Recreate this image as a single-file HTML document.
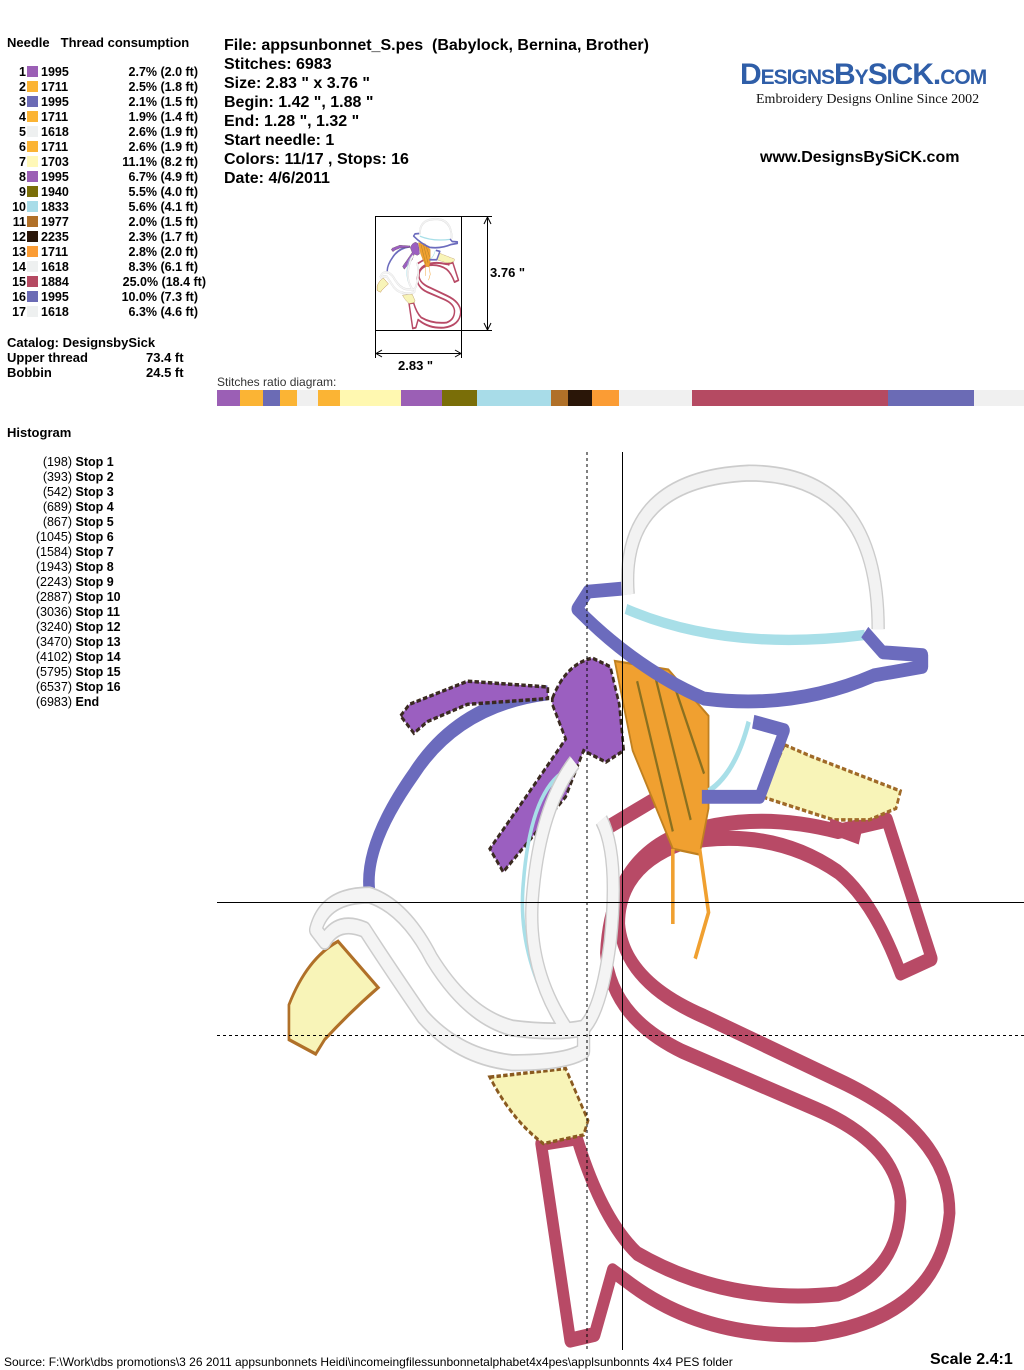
<!DOCTYPE html>
<html><head><meta charset="utf-8"><style>
body{margin:0;width:1024px;height:1370px;position:relative;background:#fff;font-family:"Liberation Sans",Arial,sans-serif;overflow:hidden}
.a{position:absolute;white-space:nowrap}
.b{font-weight:bold}
.t{font-size:13px;font-weight:bold;line-height:15px}
.sw{display:inline-block;width:11px;height:11px;vertical-align:-1px;margin:0 3px 0 1px}
.h{font-size:16px;font-weight:bold;line-height:19px;white-space:pre}
.n{display:inline-block;width:19px;text-align:right}
.p{position:absolute;left:99px;width:92px;text-align:right}
.r{display:inline-block;width:52px;text-align:right}
</style></head><body>
<div class="a t" style="left:7px;top:35px">Needle<span style="margin-left:11px">Thread consumption</span></div>
<div class="a t" style="left:7px;top:65px;font-size:12.5px">
<div><span class="n">1</span><span class="sw" style="background:#9b5fb5"></span>1995<span class="p">2.7% (2.0 ft)</span></div>
<div><span class="n">2</span><span class="sw" style="background:#fbb434"></span>1711<span class="p">2.5% (1.8 ft)</span></div>
<div><span class="n">3</span><span class="sw" style="background:#6b6bb5"></span>1995<span class="p">2.1% (1.5 ft)</span></div>
<div><span class="n">4</span><span class="sw" style="background:#fbb434"></span>1711<span class="p">1.9% (1.4 ft)</span></div>
<div><span class="n">5</span><span class="sw" style="background:#eef0f0"></span>1618<span class="p">2.6% (1.9 ft)</span></div>
<div><span class="n">6</span><span class="sw" style="background:#fbb434"></span>1711<span class="p">2.6% (1.9 ft)</span></div>
<div><span class="n">7</span><span class="sw" style="background:#fff8b8"></span>1703<span class="p">11.1% (8.2 ft)</span></div>
<div><span class="n">8</span><span class="sw" style="background:#9b5fb5"></span>1995<span class="p">6.7% (4.9 ft)</span></div>
<div><span class="n">9</span><span class="sw" style="background:#7a6e08"></span>1940<span class="p">5.5% (4.0 ft)</span></div>
<div><span class="n">10</span><span class="sw" style="background:#a8dce8"></span>1833<span class="p">5.6% (4.1 ft)</span></div>
<div><span class="n">11</span><span class="sw" style="background:#b07028"></span>1977<span class="p">2.0% (1.5 ft)</span></div>
<div><span class="n">12</span><span class="sw" style="background:#2a1608"></span>2235<span class="p">2.3% (1.7 ft)</span></div>
<div><span class="n">13</span><span class="sw" style="background:#fb9c34"></span>1711<span class="p">2.8% (2.0 ft)</span></div>
<div><span class="n">14</span><span class="sw" style="background:#eef0f0"></span>1618<span class="p">8.3% (6.1 ft)</span></div>
<div><span class="n">15</span><span class="sw" style="background:#b54a62"></span>1884<span class="p" style="left:99px;width:100px">25.0% (18.4 ft)</span></div>
<div><span class="n">16</span><span class="sw" style="background:#6b6bb5"></span>1995<span class="p">10.0% (7.3 ft)</span></div>
<div><span class="n">17</span><span class="sw" style="background:#eef0f0"></span>1618<span class="p">6.3% (4.6 ft)</span></div>
</div>
<div class="a t" style="left:7px;top:335px">Catalog: DesignsbySick</div>
<div class="a t" style="left:7px;top:350px">Upper thread</div><div class="a t" style="left:146px;top:350px">73.4 ft</div>
<div class="a t" style="left:7px;top:365px">Bobbin</div><div class="a t" style="left:146px;top:365px">24.5 ft</div>
<div class="a t" style="left:7px;top:425px">Histogram</div>
<div class="a" style="left:20px;top:455px;font-size:12.5px;line-height:15px">
<div><span class="r">(198)</span> <b>Stop 1</b></div>
<div><span class="r">(393)</span> <b>Stop 2</b></div>
<div><span class="r">(542)</span> <b>Stop 3</b></div>
<div><span class="r">(689)</span> <b>Stop 4</b></div>
<div><span class="r">(867)</span> <b>Stop 5</b></div>
<div><span class="r">(1045)</span> <b>Stop 6</b></div>
<div><span class="r">(1584)</span> <b>Stop 7</b></div>
<div><span class="r">(1943)</span> <b>Stop 8</b></div>
<div><span class="r">(2243)</span> <b>Stop 9</b></div>
<div><span class="r">(2887)</span> <b>Stop 10</b></div>
<div><span class="r">(3036)</span> <b>Stop 11</b></div>
<div><span class="r">(3240)</span> <b>Stop 12</b></div>
<div><span class="r">(3470)</span> <b>Stop 13</b></div>
<div><span class="r">(4102)</span> <b>Stop 14</b></div>
<div><span class="r">(5795)</span> <b>Stop 15</b></div>
<div><span class="r">(6537)</span> <b>Stop 16</b></div>
<div><span class="r">(6983)</span> <b>End</b></div>
</div>
<div class="a h" style="left:224px;top:36px">File: appsunbonnet_S.pes  (Babylock, Bernina, Brother)
Stitches: 6983
Size: 2.83 " x 3.76 "
Begin: 1.42 ", 1.88 "
End: 1.28 ", 1.32 "
Start needle: 1
Colors: 11/17 , Stops: 16
Date: 4/6/2011</div>
<div class="a" style="left:740px;top:58px;font-family:'Liberation Sans',sans-serif;font-weight:bold;font-size:30px;color:#2f5ea8;letter-spacing:-1px;font-variant:small-caps">DesignsBySiCK.com</div>
<div class="a" style="left:756px;top:92px;font-family:'Liberation Serif',serif;font-size:14px;color:#111">Embroidery Designs Online Since 2002</div>
<div class="a h" style="left:760px;top:148px">www.DesignsBySiCK.com</div>
<div class="a" style="left:217px;top:375px;font-size:12px;color:#333">Stitches ratio diagram:</div>
<div class="a b" style="left:490px;top:265px;font-size:13px">3.76 "</div>
<div class="a b" style="left:398px;top:358px;font-size:13px">2.83 "</div>
<div class="a" style="left:4px;top:1355px;font-size:12px">Source: F:\Work\dbs promotions\3 26 2011 appsunbonnets Heidi\incomeingfilessunbonnetalphabet4x4pes\applsunbonnts 4x4 PES folder</div>
<div class="a b" style="left:930px;top:1351px;font-size:16px">Scale 2.4:1</div>
<svg class="a" style="left:0;top:0" width="1024" height="1370">
<defs>
<g id="d">
<path d="M1360,640 L1460,880 L1390,905 Q1330,780 1250,730 Q1100,650 900,680 Q760,720 760,820 Q770,920 950,980 L1250,1090 Q1500,1180 1500,1320 Q1480,1500 1200,1530 Q950,1540 780,1440 L745,1420 L705,1530 L650,1540 L585,1200 L665,1190 Q720,1330 800,1390 Q1000,1480 1250,1460 Q1390,1420 1390,1300 Q1380,1200 1200,1140 L900,1040 Q740,980 730,870 Q740,720 880,670 Q1050,620 1250,660 Z M730,655 L860,595" fill="none" stroke="#b84a66" stroke-width="26" stroke-linejoin="round"/>
<path d="M750,365 L870,380 L960,460 L960,620 L940,700 L880,690 L790,520 Z" fill="#f0a030" stroke="#c08020" stroke-width="4"/>
<path d="M800,400 L880,660 M840,390 L920,640 M880,400 L950,560" stroke="#8a7020" stroke-width="5"/>
<path d="M880,690 L880,820 M940,690 L960,800 L930,880" fill="none" stroke="#f0a030" stroke-width="8"/>
<path d="M1130,510 L1190,530 L1390,590 L1380,620 L1320,640 L1240,640 L1080,600 Z" fill="#f8f4b8" stroke="#a06a28" stroke-width="6" stroke-dasharray="10 5"/>
<path d="M1230,650 L1300,670" stroke="#b84a66" stroke-width="26"/>
<path d="M780,250 Q760,50 1050,40 Q1340,40 1340,310" fill="none" stroke="#ccc" stroke-width="30"/>
<path d="M780,250 Q760,50 1050,40 Q1340,40 1340,310" fill="none" stroke="#f2f2f2" stroke-width="24"/>
<path d="M775,275 Q1000,350 1310,320" fill="none" stroke="#a8dfe8" stroke-width="18"/>
<path d="M765,240 L690,245 L665,275 Q800,380 950,430 Q1150,450 1330,390 L1440,375 L1440,355 L1350,350 L1310,315" fill="none" stroke="#6b6bbd" stroke-width="24" stroke-linejoin="round"/>
<path d="M1050,470 Q1020,560 960,590" fill="none" stroke="#a8dfe8" stroke-width="10"/>
<path d="M1060,470 L1130,485 L1075,600 L945,600" fill="none" stroke="#6b6bbd" stroke-width="24" stroke-linejoin="round"/>
<path d="M600,420 Q400,440 300,560 Q190,680 200,760" fill="none" stroke="#6b6bbd" stroke-width="26"/>
<path d="M610,430 Q640,370 700,360 L740,375 L760,440 L770,520 L730,540 L680,520 L640,600 L500,730 L470,690 L560,590 L640,500 L610,440 Z M270,460 L290,440 L420,400 L600,410 L600,430 L420,440 L330,470 L300,490 Z" fill="#9b5fc0" stroke="#3a2a20" stroke-width="6" stroke-dasharray="10 5"/>
<path d="M20,1020 L20,960 Q60,880 130,850 L220,930 Q160,970 100,1020 L80,1045 Z" fill="#f8f4b8" stroke="#b07028" stroke-width="6"/>
<path d="M470,1085 L640,1070 L690,1160 L680,1185 L590,1200 Q520,1160 470,1085 Z" fill="#f8f4b8" stroke="#8a5a20" stroke-width="6" stroke-dasharray="10 5"/>
<path d="M630,560 Q560,600 545,750 Q530,880 630,1000" fill="none" stroke="#a8dfe8" stroke-width="8"/>
<g fill="none" stroke-linejoin="round">
<path d="M660,540 Q580,620 565,780 Q555,900 640,1000 M720,640 Q760,700 740,850 Q720,970 680,1000 M80,830 Q100,770 200,770 Q280,790 340,880 Q420,980 520,1000 Q620,1010 680,1000 L680,1040 Q640,1060 520,1060 Q400,1050 320,980 Q240,890 190,830 Q130,810 100,850 Z" stroke="#ccc" stroke-width="30"/>
<path d="M660,540 Q580,620 565,780 Q555,900 640,1000 M720,640 Q760,700 740,850 Q720,970 680,1000 M80,830 Q100,770 200,770 Q280,790 340,880 Q420,980 520,1000 Q620,1010 680,1000 L680,1040 Q640,1060 520,1060 Q400,1050 320,980 Q240,890 190,830 Q130,810 100,850 Z" stroke="#f4f4f4" stroke-width="24"/>
</g>
</g>
</defs>
<use href="#d" transform="translate(280,450) scale(0.4464,0.578)"/>
<line x1="587" y1="452" x2="587" y2="1350" stroke="#000" stroke-dasharray="3 3"/>
<line x1="622.5" y1="452" x2="622.5" y2="1350" stroke="#000"/>
<line x1="217" y1="902.5" x2="1024" y2="902.5" stroke="#000"/>
<line x1="217" y1="1035.5" x2="1024" y2="1035.5" stroke="#000" stroke-dasharray="3 3"/>
<use href="#d" transform="translate(376,216) scale(0.0565,0.073)"/>
<rect x="375.5" y="216.5" width="86" height="114" fill="none" stroke="#000"/>
<line x1="461" y1="216.5" x2="492" y2="216.5" stroke="#000"/>
<line x1="461" y1="330.5" x2="492" y2="330.5" stroke="#000"/>
<line x1="487.5" y1="218" x2="487.5" y2="329" stroke="#000"/>
<path d="M484,224 L487.5,217 L491,224 M484,323 L487.5,330 L491,323" fill="none" stroke="#000"/>
<line x1="375.5" y1="330" x2="375.5" y2="358" stroke="#000"/>
<line x1="461.5" y1="330" x2="461.5" y2="358" stroke="#000"/>
<line x1="377" y1="353.5" x2="460" y2="353.5" stroke="#000"/>
<path d="M382,350 L376,353.5 L382,357 M455,350 L461,353.5 L455,357" fill="none" stroke="#000"/>
<g>
<rect x="217" y="390" width="23" height="16" fill="#9b5fb5"/>
<rect x="240" y="390" width="23" height="16" fill="#fbb434"/>
<rect x="263" y="390" width="17" height="16" fill="#6b6bb5"/>
<rect x="280" y="390" width="17" height="16" fill="#fbb434"/>
<rect x="297" y="390" width="21" height="16" fill="#f0f0f0"/>
<rect x="318" y="390" width="22" height="16" fill="#fbb434"/>
<rect x="340" y="390" width="61" height="16" fill="#fff8b0"/>
<rect x="401" y="390" width="41" height="16" fill="#9b5fb5"/>
<rect x="442" y="390" width="35" height="16" fill="#7a6e08"/>
<rect x="477" y="390" width="74" height="16" fill="#a8dce8"/>
<rect x="551" y="390" width="17" height="16" fill="#b07028"/>
<rect x="568" y="390" width="24" height="16" fill="#2a1608"/>
<rect x="592" y="390" width="27" height="16" fill="#fb9c34"/>
<rect x="619" y="390" width="73" height="16" fill="#f0f0f0"/>
<rect x="692" y="390" width="196" height="16" fill="#b54a62"/>
<rect x="888" y="390" width="86" height="16" fill="#6b6bb5"/>
<rect x="974" y="390" width="50" height="16" fill="#f0f0f0"/>
</g>
</svg>
</body></html>
